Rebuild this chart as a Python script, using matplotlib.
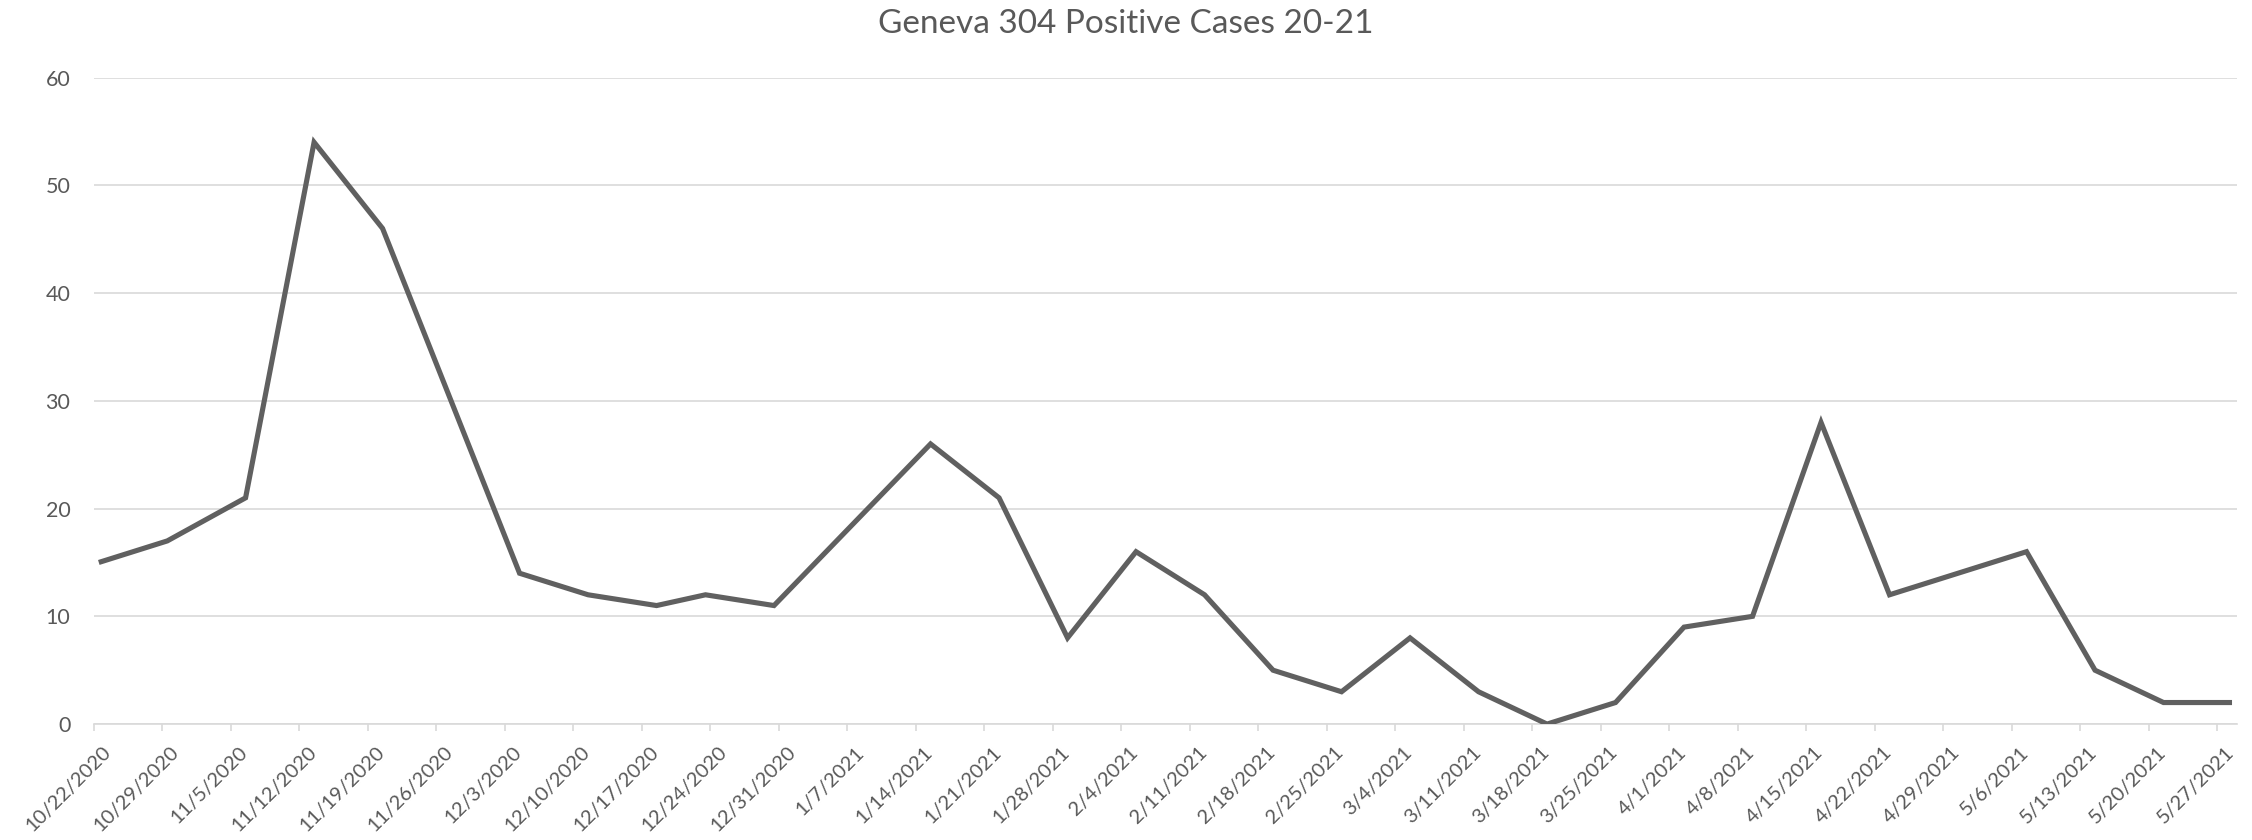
import matplotlib
matplotlib.use("Agg")
import matplotlib.pyplot as plt
import matplotlib.transforms as mtransforms
import pandas as pd

plt.rcParams["font.family"] = ["Lato", "DejaVu Sans"]

# ─── Data ───────────────────────────────────────────────────────────────────
report_dates = [
    "2020-10-22", "2020-10-29", "2020-11-06", "2020-11-13", "2020-11-20",
    "2020-11-27", "2020-12-04", "2020-12-11", "2020-12-18", "2020-12-23",
    "2020-12-30", "2021-01-15", "2021-01-22", "2021-01-29", "2021-02-05",
    "2021-02-12", "2021-02-19", "2021-02-26", "2021-03-05", "2021-03-12",
    "2021-03-19", "2021-03-26", "2021-04-02", "2021-04-09", "2021-04-16",
    "2021-04-23", "2021-04-30", "2021-05-07", "2021-05-14", "2021-05-21",
    "2021-05-28",
]
positive_cases = [
    15, 17, 21, 54, 46,
    30, 14, 12, 11, 12,
    11, 26, 21, 8, 16,
    12, 5, 3, 8, 3,
    0, 2, 9, 10, 28,
    12, 14, 16, 5, 2,
    2,
]
axis_start = "2020-10-22"
axis_end = "2021-05-29"
title = "Geneva 304 Positive Cases 20-21"

TXT = "#595959"
GRID = "#d9d9d9"
LINE = "#606060"

# excel date axis: each point sits in the middle of its day
x = pd.to_datetime(report_dates) + pd.Timedelta(hours=12)
ticks = pd.date_range(axis_start, "2021-05-27", freq="7D")
tick_lbls = [f"{d.month}/{d.day}/{d.year}" for d in ticks]

fig = plt.figure(figsize=(22.52, 8.40), dpi=100)
ax = fig.add_axes([0.0417, 0.138, 0.9516, 0.7696])

ax.plot(x, positive_cases, color=LINE, linewidth=3.7, solid_joinstyle="miter",
        solid_capstyle="butt", zorder=3)

ax.set_xlim(pd.Timestamp(axis_start), pd.Timestamp(axis_end))
ax.set_ylim(0, 60)
ax.set_yticks(range(0, 61, 10))
ax.grid(axis="y", color=GRID, linewidth=1.2)
ax.set_axisbelow(True)
for s in ["top", "right", "left"]:
    ax.spines[s].set_visible(False)
ax.spines["bottom"].set_color(GRID)
ax.spines["bottom"].set_linewidth(1.2)

ax.set_xticks(ticks)
ax.set_xticklabels(tick_lbls)
ax.tick_params(axis="x", length=5, width=1.2, color=GRID, labelsize=14.5,
               labelcolor=TXT, pad=9)
ax.tick_params(axis="y", length=0, labelsize=15.5, labelcolor=TXT, pad=17)

shift = mtransforms.ScaledTranslation(0.08, 0, fig.dpi_scale_trans)
for lbl in ax.get_xticklabels():
    lbl.set_rotation(45)
    lbl.set_ha("right")
    lbl.set_va("top")
    lbl.set_rotation_mode("anchor")
    lbl.set_transform(lbl.get_transform() + shift)

fig.text(0.5, 0.971, title, ha="center", va="center", fontsize=24, color=TXT)

fig.savefig("out.png", dpi=100, facecolor="white")
